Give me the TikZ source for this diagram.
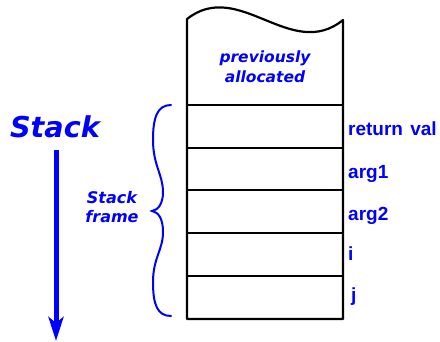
\documentclass[tikz,border=0pt]{standalone}
\usepackage{fontspec}
\setmainfont{Liberation Sans}
\newfontfamily\obliquefont{DejaVu Sans}[BoldItalicFont={DejaVu Sans Bold Oblique}]
\usetikzlibrary{arrows.meta}
\definecolor{labelblue}{RGB}{0,0,255}
\tikzset{
  cellline/.style={line width=2.2pt, black},
  slotlabel/.style={anchor=base west, inner sep=0pt, text=labelblue,
    font=\fontsize{19}{20}\selectfont\bfseries},
  italiclabel/.style={inner sep=0pt, text=labelblue, align=center},
}
\begin{document}
\begin{tikzpicture}[x=1pt,y=-1pt]
  \useasboundingbox (0,0) rectangle (440,341);

  % stack memory column with torn top edge
  \draw[cellline, line join=round]
    (187,19) .. controls (239,-22) and (291,62) .. (343,20)
    -- (343,319) -- (187,319) -- cycle;
  \foreach \y in {105,148,190,233,276}
    \draw[cellline] (187,\y) -- (343,\y);

  % text in the already used region
  \node[italiclabel, anchor=base] (prev) at (265,62)
    {\obliquefont\fontsize{15.5}{17}\selectfont\bfseries\itshape previously};
  \node[italiclabel, anchor=base] (alloc) at (265,82)
    {\obliquefont\fontsize{15.5}{17}\selectfont\bfseries\itshape allocated};

  % slot names
  \node[slotlabel] (retval) at (348,135) {return\hspace{2pt} val};
  \node[slotlabel] (arga) at (348,178) {arg1};
  \node[slotlabel] (argb) at (348,220) {arg2};
  \node[slotlabel] (vari) at (348,260) {i};
  \node[slotlabel] (varj) at (351,301) {j};

  % growth direction
  \node[italiclabel, anchor=base] (stacktitle) at (55,137)
    {\obliquefont\fontsize{28.7}{30}\selectfont\bfseries\itshape Stack};
  \coordinate (arrowtop) at (56,150);
  \coordinate (arrowend) at (56,341);
  \draw[labelblue, line width=5pt,
        -{Stealth[length=24pt, width=15pt, inset=6pt]}] (arrowtop) -- (arrowend);

  % frame brace and its caption
  \draw[labelblue, line width=2pt, line cap=round]
    (171,105) .. controls (157,105) and (153,118) .. (153,140)
    .. controls (153,165) and (163,175) .. (163,192)
    .. controls (163,204) and (158,210) .. (152,211)
    .. controls (158,212) and (163,218) .. (163,232)
    .. controls (163,250) and (153,258) .. (153,282)
    .. controls (153,304) and (157,316) .. (171,316);
  \node[italiclabel, anchor=base] (frameA) at (112,203)
    {\obliquefont\fontsize{16}{17}\selectfont\bfseries\itshape Stack};
  \node[italiclabel, anchor=base] (frameB) at (112,222)
    {\obliquefont\fontsize{16}{17}\selectfont\bfseries\itshape frame};
\end{tikzpicture}
\end{document}
